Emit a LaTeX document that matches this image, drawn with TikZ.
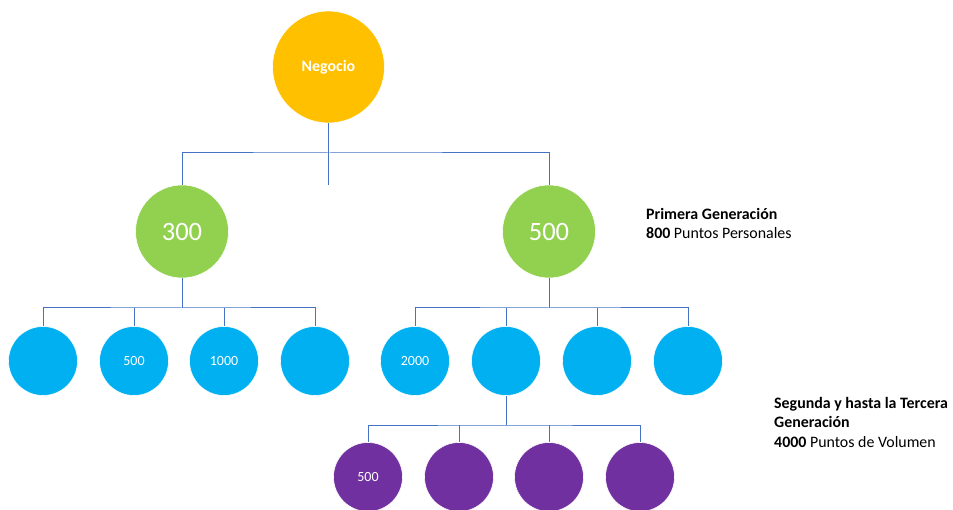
\documentclass[tikz,border=0pt]{standalone}
\usepackage{fontspec}
\setmainfont{Carlito}
\definecolor{orng}{HTML}{FFC000}
\definecolor{grn}{HTML}{92D050}
\definecolor{blu}{HTML}{00B0F0}
\definecolor{purp}{HTML}{7030A0}
\definecolor{lin}{HTML}{4472C4}
\begin{document}
\begin{tikzpicture}[x=1pt,y=-1pt,
  conn/.style={draw=lin,line width=1pt},
  circ/.style={circle,inner sep=0pt,text=white,draw=white,line width=0.6pt},
  topc/.style={circ,fill=orng,minimum size=112pt,font=\fontsize{15.9}{18}\selectfont\bfseries},
  genc/.style={circ,fill=grn,minimum size=93pt,font=\fontsize{26.5}{30}\selectfont},
  bluc/.style={circ,fill=blu,minimum size=69pt,font=\fontsize{14}{16}\selectfont},
  purc/.style={circ,fill=purp,minimum size=69pt,font=\fontsize{14}{16}\selectfont},
  legend/.style={anchor=north west,align=left,inner sep=0pt,font=\fontsize{15.9}{19.5}\selectfont}]
\useasboundingbox (0,0) rectangle (953,510);
% nodes
\node[topc] (neg) at (328.5,67) {\raisebox{-3pt}{Negocio}};
\node[genc] (g1) at (182,231.5) {300};
\node[genc] (g2) at (549,231.5) {500};
\node[bluc] (b1) at (43,361) {};
\node[bluc] (b2) at (134,361) {500};
\node[bluc] (b3) at (224,361) {1000};
\node[bluc] (b4) at (315,361) {};
\node[bluc] (b5) at (415,361) {2000};
\node[bluc] (b6) at (506,361) {};
\node[bluc] (b7) at (597,361) {};
\node[bluc] (b8) at (688,361) {};
\node[purc] (p1) at (368,477) {500};
\node[purc] (p2) at (459,477) {};
\node[purc] (p3) at (549,477) {};
\node[purc] (p4) at (640,477) {};
% bar coordinates
\coordinate (negbar) at (328.5,153);
\coordinate (negstub) at (328.5,185);
\coordinate (g1bar) at (182,308);
\coordinate (g2bar) at (549,308);
\coordinate (b6bar) at (506,425);
% connectors
\draw[conn] (neg.south) -- (negstub);
\draw[conn] (g1.north) |- (negbar) -| (g2.north);
\draw[conn] (g1.south) -- (g1bar);
\draw[conn] (b1.north) |- (g1bar) -| (b4.north);
\draw[conn] (b2.north) -- (b2.north |- g1bar);
\draw[conn] (b3.north) -- (b3.north |- g1bar);
\draw[conn] (g2.south) -- (g2bar);
\draw[conn] (b5.north) |- (g2bar) -| (b8.north);
\draw[conn] (b6.north) -- (b6.north |- g2bar);
\draw[conn] (b7.north) -- (b7.north |- g2bar);
\draw[conn] (b6.south) -- (b6bar);
\draw[conn] (p1.north) |- (b6bar) -| (p4.north);
\draw[conn] (p2.north) -- (p2.north |- b6bar);
\draw[conn] (p3.north) -- (p3.north |- b6bar);
% legends
\node[legend] (leg1) at (646,208) {\textbf{Primera Generación}\\\textbf{800} Puntos Personales};
\node[legend] (leg2) at (774,397) {\textbf{Segunda y hasta la Tercera}\\\textbf{Generación}\\\textbf{4000} Puntos de Volumen};
\end{tikzpicture}
\end{document}
